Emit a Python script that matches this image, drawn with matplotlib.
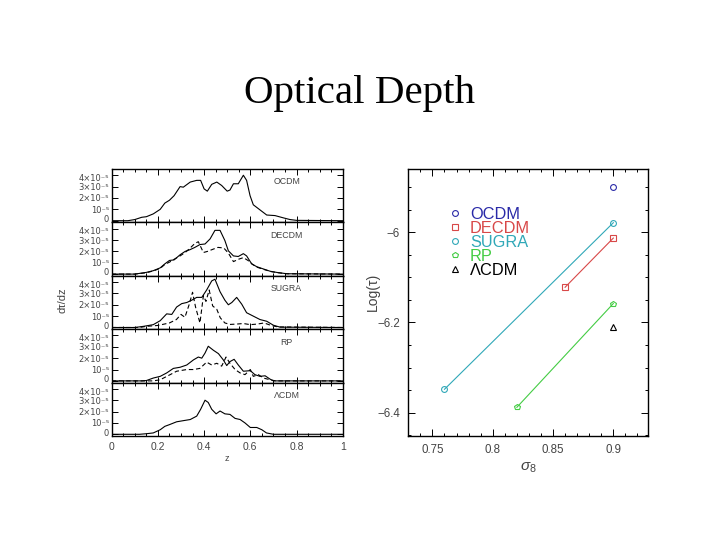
import matplotlib
matplotlib.use('Agg')
import matplotlib.pyplot as plt
from matplotlib.ticker import MultipleLocator, FixedLocator
from matplotlib.transforms import ScaledTranslation

# ---------------- left panels: d tau / dz (units of 1e-5) ----------------
panel_names = ['OCDM', 'DECDM', 'SUGRA', 'RP', 'ΛCDM']

ocdm_z = [0, 0.07, 0.1, 0.13, 0.15, 0.18, 0.21, 0.23, 0.25, 0.27, 0.296, 0.31, 0.34, 0.368, 0.385, 0.40,
          0.414, 0.433, 0.455, 0.476, 0.50, 0.512, 0.527, 0.548, 0.57, 0.584, 0.599, 0.613, 0.642, 0.671,
          0.707, 0.743, 0.772, 0.80, 1.0]
ocdm_v = [0, 0, 0.1, 0.3, 0.35, 0.6, 1.0, 1.55, 1.8, 2.2, 3.0, 2.95, 3.4, 3.55, 3.55, 2.8,
          2.6, 3.2, 3.4, 3.1, 2.6, 2.7, 3.25, 3.25, 4.0, 3.55, 2.2, 1.4, 0.95, 0.5,
          0.45, 0.25, 0.1, 0.03, 0]

decdm_z = [0, 0.1, 0.15, 0.18, 0.21, 0.23, 0.25, 0.27, 0.296, 0.318, 0.339, 0.36, 0.382, 0.404, 0.426,
           0.447, 0.469, 0.49, 0.505, 0.527, 0.548, 0.57, 0.584, 0.606, 0.628, 0.657, 0.686, 0.714, 0.758, 1.0]
decdm_v = [0, 0, 0.15, 0.3, 0.55, 0.9, 1.2, 1.25, 1.7, 2.0, 2.15, 2.35, 2.6, 2.65, 3.1,
           3.85, 3.85, 2.95, 2.05, 1.6, 1.55, 1.8, 1.6, 0.9, 0.65, 0.45, 0.25, 0.15, 0.03, 0]
decdm2_z = [0, 0.1, 0.15, 0.18, 0.21, 0.23, 0.25, 0.27, 0.296, 0.318, 0.34, 0.36, 0.375, 0.397, 0.415,
            0.44, 0.46, 0.485, 0.505, 0.527, 0.548, 0.57, 0.59, 0.61, 0.63, 0.66, 0.69, 0.72, 0.76, 1.0]
decdm2_v = [0, 0, 0.12, 0.28, 0.5, 0.85, 1.05, 1.3, 1.6, 1.9, 2.3, 2.7, 2.85, 1.9, 2.0,
            2.2, 2.35, 2.3, 1.85, 1.1, 1.3, 1.45, 1.2, 0.85, 0.6, 0.4, 0.22, 0.12, 0.03, 0]

sugra_z = [0, 0.1, 0.137, 0.18, 0.21, 0.238, 0.26, 0.281, 0.303, 0.325, 0.346, 0.368, 0.39, 0.411, 0.433,
           0.447, 0.469, 0.49, 0.505, 0.52, 0.541, 0.563, 0.584, 0.613, 0.642, 0.671, 0.70, 0.729, 1.0]
sugra_v = [0, 0, 0.1, 0.25, 0.6, 1.2, 1.15, 1.8, 2.1, 2.2, 2.4, 2.65, 2.65, 3.3, 4.1,
           4.25, 3.15, 2.4, 2.0, 2.2, 2.65, 2.05, 1.3, 1.0, 0.7, 0.55, 0.2, 0.03, 0]
sugra2_z = [0, 0.12, 0.15, 0.2, 0.25, 0.28, 0.30, 0.317, 0.335, 0.35, 0.363, 0.382, 0.397, 0.408,
            0.422, 0.437, 0.455, 0.47, 0.49, 0.512, 0.54, 0.57, 0.6, 0.63, 0.66, 0.69, 0.72, 1.0]
sugra2_v = [0, 0, 0.1, 0.18, 0.4, 0.7, 1.15, 0.9, 2.0, 3.1, 1.8, 0.4, 2.8, 2.3,
            3.3, 1.9, 1.6, 0.85, 0.4, 0.27, 0.3, 0.35, 0.25, 0.3, 0.4, 0.18, 0.05, 0]

rp_z = [0, 0.13, 0.15, 0.18, 0.21, 0.238, 0.267, 0.296, 0.325, 0.354, 0.375, 0.39, 0.404, 0.418, 0.44,
        0.462, 0.483, 0.498, 0.512, 0.53, 0.548, 0.57, 0.6, 0.62, 0.642, 0.664, 0.686, 0.70, 1.0]
rp_v = [0, 0, 0.03, 0.25, 0.4, 0.7, 1.1, 1.2, 1.4, 1.85, 2.1, 2.0, 2.45, 3.05, 2.7,
        2.4, 1.85, 1.35, 1.7, 1.9, 1.4, 0.85, 0.9, 0.55, 0.4, 0.45, 0.15, 0, 0]
rp2_z = [0, 0.18, 0.21, 0.253, 0.281, 0.325, 0.354, 0.382, 0.411, 0.433, 0.455, 0.476, 0.495, 0.512,
         0.534, 0.556, 0.577, 0.6, 0.613, 0.635, 0.657, 0.686, 0.71, 1.0]
rp2_v = [0, 0, 0.1, 0.55, 0.85, 1.0, 1.0, 1.1, 1.65, 1.4, 1.55, 1.3, 2.1, 1.55,
         1.0, 0.7, 0.55, 1.0, 0.4, 0.55, 0.25, 0.1, 0, 0]

lcdm_z = [0, 0.12, 0.15, 0.18, 0.21, 0.23, 0.25, 0.281, 0.31, 0.34, 0.368, 0.385, 0.404, 0.418, 0.433,
          0.452, 0.469, 0.49, 0.512, 0.534, 0.556, 0.577, 0.6, 0.628, 0.65, 0.67, 0.70, 1.0]
lcdm_v = [0, 0, 0.05, 0.12, 0.4, 0.7, 0.85, 1.1, 1.2, 1.3, 1.6, 2.2, 3.0, 2.8, 2.2,
          1.8, 2.05, 1.8, 1.75, 1.4, 1.3, 1.0, 0.6, 0.6, 0.4, 0.12, 0, 0]

solid_curves = [(ocdm_z, ocdm_v), (decdm_z, decdm_v), (sugra_z, sugra_v), (rp_z, rp_v), (lcdm_z, lcdm_v)]
dashed_curves = [None, (decdm2_z, decdm2_v), (sugra2_z, sugra2_v), (rp2_z, rp2_v), None]

ytick_vals = [0, 1, 2, 3, 4]
ytick_labels = ['0', '10⁻⁵', '2×10⁻⁵', '3×10⁻⁵', '4×10⁻⁵']
xtick_vals = [0, 0.2, 0.4, 0.6, 0.8, 1.0]
xtick_labels = ['0', '0.2', '0.4', '0.6', '0.8', '1']

# ---------------- right panel: Log(tau) vs sigma_8 ----------------
models = ['OCDM', 'DECDM', 'SUGRA', 'RP', 'ΛCDM']
colors = ['#2a2aa8', '#d84848', '#30a8b8', '#44cc44', '#000000']
markers = ['o', 's', 'o', 'p', '^']
sigma8 = [[0.9], [0.86, 0.9], [0.76, 0.9], [0.82, 0.9], [0.9]]
logtau = [[-5.900], [-6.122, -6.013], [-6.348, -5.979], [-6.388, -6.158], [-6.211]]

r_xticks = [0.75, 0.8, 0.85, 0.9]
r_xlabels = ['0.75', '0.8', '0.85', '0.9']
r_yticks = [-6.4, -6.2, -6.0]
r_ylabels = ['−6.4', '−6.2', '−6']

plt.rcParams['font.family'] = ['Liberation Sans', 'DejaVu Sans']
plt.rcParams['mathtext.fontset'] = 'custom'
plt.rcParams['mathtext.rm'] = 'Liberation Sans'
plt.rcParams['mathtext.it'] = 'Liberation Sans:italic'

txt = '#444444'
fig = plt.figure(figsize=(7.2, 5.4), dpi=100)
fig.patch.set_facecolor('white')

fig.text(0.5, 1 - 103 / 540, 'Optical Depth', family='Liberation Serif', fontsize=29.5,
         ha='center', va='baseline', color='black')

# left stack
L, R = 111.7 / 720, 342.7 / 720
top, bot = 1 - 169 / 540, 1 - 436 / 540
gs = fig.add_gridspec(5, 1, left=L, right=R, top=top, bottom=bot, hspace=0)
up = ScaledTranslation(0, 1.6 / 72, fig.dpi_scale_trans)
down = ScaledTranslation(0, -1.6 / 72, fig.dpi_scale_trans)
for i in range(5):
    ax = fig.add_subplot(gs[i])
    z, v = solid_curves[i]
    ax.plot(z, v, color='black', lw=0.8)
    if dashed_curves[i] is not None:
        z2, v2 = dashed_curves[i]
        ax.plot(z2, v2, color='black', lw=0.8, ls=(0, (4, 2.5)))
    ax.set_xlim(0, 1)
    ax.set_ylim(-0.15, 4.55)
    ax.yaxis.set_major_locator(FixedLocator(ytick_vals))
    ax.set_yticklabels(ytick_labels, family=['DejaVu Sans'])
    ax.xaxis.set_major_locator(FixedLocator(xtick_vals))
    ax.xaxis.set_minor_locator(MultipleLocator(0.05))
    ax.yaxis.set_minor_locator(MultipleLocator(0.5))
    ax.tick_params(which='both', direction='in', top=True, right=True, colors='black',
                   labelcolor=txt, width=0.7)
    ax.tick_params(which='major', length=4.5)
    ax.tick_params(which='minor', length=2.2)
    ax.tick_params(axis='y', which='minor', length=0)
    ax.tick_params(axis='y', labelsize=6, pad=2)
    if i < 4:
        ax.tick_params(axis='x', labelbottom=False)
    else:
        ax.set_xticklabels(xtick_labels)
        ax.tick_params(axis='x', labelsize=7.5, pad=4)
        ax.set_xlabel('z', fontsize=6.5, color=txt, labelpad=2)
    # nudge the crowded extreme labels apart (0 of one panel vs 4e-5 of the next)
    ylabs = ax.get_yticklabels()
    ylabs[0].set_transform(ylabs[0].get_transform() + up)
    ylabs[-1].set_transform(ylabs[-1].get_transform() + down)
    for s in ax.spines.values():
        s.set_linewidth(1.0)
    ax.text(0.757, 0.76, panel_names[i], transform=ax.transAxes, fontsize=6.3,
            ha='center', va='center', color=txt)

fig.text(63 / 720, 1 - 300 / 540, 'dτ/dz', rotation=90, fontsize=8, color=txt,
         ha='center', va='center')

# right panel
axr = fig.add_axes([408.3 / 720, bot, (648.3 - 408.3) / 720, top - bot])
for i in range(5):
    axr.plot(sigma8[i], logtau[i], color=colors[i], lw=0.8, marker=markers[i],
             ms=4.2, mfc='none', mec=colors[i], mew=0.8)
axr.set_xlim(0.730, 0.929)
axr.set_ylim(-6.4515, -5.86)
axr.xaxis.set_major_locator(FixedLocator(r_xticks))
axr.set_xticklabels(r_xlabels)
axr.xaxis.set_minor_locator(MultipleLocator(0.01))
axr.yaxis.set_major_locator(FixedLocator(r_yticks))
axr.set_yticklabels(r_ylabels)
axr.yaxis.set_minor_locator(MultipleLocator(0.05))
axr.tick_params(which='both', direction='in', top=True, right=True, labelcolor=txt, width=0.7)
axr.tick_params(which='major', length=5, labelsize=8.3, pad=6)
axr.tick_params(which='minor', length=2.5)
for s in axr.spines.values():
    s.set_linewidth(1.0)
axr.set_xlabel(r'$\sigma_8$', fontsize=11, color=txt, labelpad=3)
fig.text(373 / 720, 1 - 292 / 540, 'Log(τ)', rotation=90, fontsize=10, color=txt,
         ha='center', va='center')

# legend (marker + coloured label)
lx_m, lx_t = 0.195, 0.257
ly0, ldy = 0.834, 0.052
for i in range(5):
    axr.plot([lx_m], [ly0 - i * ldy], transform=axr.transAxes, marker=markers[i], ms=4.2,
             mfc='none', mec=colors[i], mew=0.8, ls='none')
    axr.text(lx_t, ly0 - i * ldy, models[i], transform=axr.transAxes, fontsize=11.8,
             color=colors[i], ha='left', va='center_baseline')

fig.savefig('out.png', dpi=100, facecolor='white')
